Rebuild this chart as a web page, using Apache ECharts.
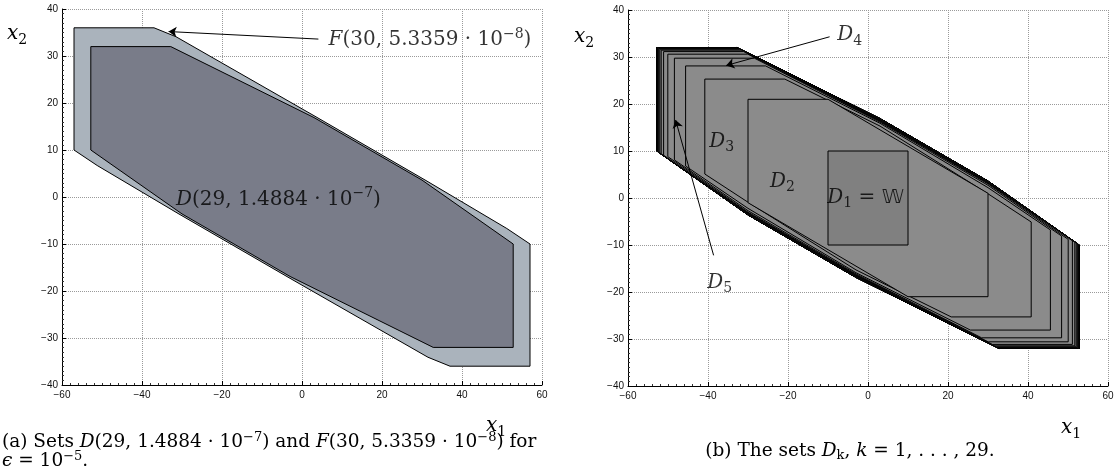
<!DOCTYPE html>
<html><head><meta charset="utf-8">
<script src="https://cdn.jsdelivr.net/npm/echarts@6/dist/echarts.min.js"></script>
<style>html,body{margin:0;padding:0;background:#fff}#c{width:1119px;height:475px}</style>
</head><body><div id="c"></div>
<script>
// ---------------- data ----------------
// axis ranges / ticks
const xRange = [-60, 60], xStep = 20;
const yRange = [-40, 40], yStep = 10;

// (a) set F(30, 5.3359e-8)  (vertices, x1 / x2)
const setF_x = [-57, -37, -31.5, 3, 31, 51.2, 57, 57, 37, 31.5, -3, -31, -51.2, -57];
const setF_y = [36, 36, 34.1, 17.3, 3.5, -6.7, -10, -36, -36, -34.1, -17.3, -3.5, 6.7, 10];
// (a) set D(29, 1.4884e-7)
const setD_x = [-52.8, -32.8, 3, 30, 52.8, 52.8, 32.8, -3, -30, -52.8];
const setD_y = [32, 32, 16.9, 3.6, -10, -32, -32, -16.9, -3.6, 10];

// (b) sets D_k, k = 1..29 (centrally symmetric; upper-left half given)
const dkLeft   = [-10, -30, -40.8, -45.6, -48.4, -50.05, -51.1, -51.7, -52.05, -52.3, -52.45, -52.55, -52.62, -52.67, -52.7, -52.72, -52.74, -52.75, -52.76, -52.77, -52.78, -52.78, -52.79, -52.79, -52.8, -52.8, -52.8, -52.8, -52.8];
const dkTopEnd = [10, -10, -20.8, -25.6, -28.4, -30.05, -31.1, -31.7, -32.05, -32.3, -32.45, -32.55, -32.62, -32.67, -32.7, -32.72, -32.74, -32.75, -32.76, -32.77, -32.78, -32.78, -32.79, -32.79, -32.8, -32.8, -32.8, -32.8, -32.8];
const dkTop    = [10, 21, 25.3, 28.1, 29.75, 30.6, 31.15, 31.45, 31.65, 31.78, 31.86, 31.91, 31.94, 31.96, 31.97, 31.98, 31.98, 31.99, 31.99, 31.99, 32, 32, 32, 32, 32, 32, 32, 32, 32];
const dkLow    = [-10, -1, 5.1, 6.8, 8.1, 8.8, 9.1, 9.4, 9.6, 9.72, 9.8, 9.86, 9.9, 9.92, 9.94, 9.95, 9.96, 9.97, 9.97, 9.98, 9.98, 9.99, 9.99, 9.99, 10, 10, 10, 10, 10];
const dkKneeAX = [10, 3, 3, 3, 3, 3, 3, 3, 3, 3, 3, 3, 3, 3, 3, 3, 3, 3, 3, 3, 3, 3, 3, 3, 3, 3, 3, 3, 3];
const dkKneeAY = [10, 14.5, 15.3, 15.9, 16.15, 16.3, 16.4, 16.47, 16.55, 16.62, 16.68, 16.73, 16.77, 16.8, 16.82, 16.84, 16.85, 16.86, 16.87, 16.88, 16.88, 16.89, 16.89, 16.9, 16.9, 16.9, 16.9, 16.9, 16.9];
const dkKneeBX = [10, 30, 30, 30, 30, 30, 30, 30, 30, 30, 30, 30, 30, 30, 30, 30, 30, 30, 30, 30, 30, 30, 30, 30, 30, 30, 30, 30, 30];
const dkKneeBY = [10, 1, 0.9, 2.2, 2.7, 3.0, 3.15, 3.25, 3.33, 3.4, 3.45, 3.49, 3.52, 3.54, 3.56, 3.57, 3.58, 3.58, 3.59, 3.59, 3.6, 3.6, 3.6, 3.6, 3.6, 3.6, 3.6, 3.6, 3.6];

// annotations (data coordinates)
const labelsA = [
  { at: [32, 33.4], text: '{i|F}{n|(30, 5.3359 · 10}{sup|−8}{n|)}' },
  { at: [-5.9, -0.6], text: '{i|D}{n|(29, 1.4884 · 10}{sup|−7}{n|)}' }
];
const arrowsA = [ { from: [4.1, 33.6], to: [-33.35, 35.2] } ];
const labelsB = [
  { at: [-4.6, 34.7], text: '{i|D}{sub|4}' },
  { at: [-36.6, 12], text: '{i|D}{sub|3}' },
  { at: [-21.4, 3.5], text: '{i|D}{sub|2}' },
  { at: [-0.6, 0.1], text: '{i|D}{sub|1}{n| = }{bb|𝕎}' },
  { at: [-37.1, -18], text: '{i|D}{sub|5}' }
];
const arrowsB = [
  { from: [-9.6, 34.3], to: [-35.45, 28.2] },
  { from: [-38.6, -12.2], to: [-48.1, 16.6] }
];

// ---------------- chart ----------------
const SERIF = "'DejaVu Serif','Liberation Serif',serif";
const SANS = "'Liberation Sans','DejaVu Sans',Arial,sans-serif";
const mathRich = {
  n:   { fontFamily: SERIF, fontSize: 20, lineHeight: 26, color: '#000' },
  i:   { fontFamily: SERIF, fontSize: 20, lineHeight: 26, fontStyle: 'italic', color: '#000' },
  bb:  { fontFamily: "'DejaVu Sans','DejaVu Serif',serif", fontSize: 20, lineHeight: 26, color: '#000' },
  sup: { fontFamily: SERIF, fontSize: 14, lineHeight: 14, verticalAlign: 'top', color: '#000' },
  sub: { fontFamily: SERIF, fontSize: 14, lineHeight: 14, verticalAlign: 'bottom', color: '#000' }
};
const capRich = {
  n:   { fontFamily: SERIF, fontSize: 18.5, lineHeight: 22, color: '#000' },
  i:   { fontFamily: SERIF, fontSize: 18.5, lineHeight: 22, fontStyle: 'italic', color: '#000' },
  sup: { fontFamily: SERIF, fontSize: 13, lineHeight: 13, verticalAlign: 'top', color: '#000' },
  sub: { fontFamily: SERIF, fontSize: 13, lineHeight: 13, verticalAlign: 'bottom', color: '#000' }
};

function axisPair(gi) {
  const common = {
    gridIndex: gi, type: 'value',
    axisLine: { show: true, onZero: false, lineStyle: { color: '#000', width: 1 } },
    axisTick: { show: true, inside: true, length: 4, lineStyle: { color: '#000' } },
    minorTick: { show: true, splitNumber: 10, length: 2, lineStyle: { color: '#333' } },
    splitLine: { show: true, lineStyle: { color: '#9a9a9a', type: 'dotted', width: 1 } },
    axisLabel: { color: '#111', fontFamily: SANS, fontSize: 10,
                 formatter: v => String(v).replace('-', '\u2212') }
  };
  return {
    x: Object.assign({}, common, { min: xRange[0], max: xRange[1], interval: xStep,
      axisLabel: Object.assign({}, common.axisLabel, { margin: 5 }) }),
    y: Object.assign({}, common, { min: yRange[0], max: yRange[1], interval: yStep,
      axisLabel: Object.assign({}, common.axisLabel, { margin: 4 }) })
  };
}
const a0 = axisPair(0), a1 = axisPair(1);

function polygonSeries(gi, xs, ys, fill) {
  return {
    type: 'custom', xAxisIndex: gi, yAxisIndex: gi, silent: true, clip: true,
    data: [[0, 0]], encode: { x: 0, y: 1 },
    renderItem: (params, api) => ({
      type: 'polygon',
      shape: { points: xs.map((x, j) => api.coord([x, ys[j]])) },
      style: { fill: fill, stroke: '#000', lineWidth: 1 }
    })
  };
}

function dkPoints(i) {
  const L = dkLeft[i], E = dkTopEnd[i], T = dkTop[i], C = dkLow[i];
  const ax = dkKneeAX[i], ay = dkKneeAY[i], bx = dkKneeBX[i], by = dkKneeBY[i];
  return [[L, T], [E, T], [ax, ay], [bx, by], [-L, -C],
          [-L, -T], [-E, -T], [-ax, -ay], [-bx, -by], [L, C]];
}
const dkOrder = dkLeft.map((_, i) => [0, 0, dkLeft.length - 1 - i]); // largest first
const dkSeries = {
  type: 'custom', xAxisIndex: 1, yAxisIndex: 1, silent: true, clip: true,
  data: dkOrder, encode: { x: 0, y: 1 },
  renderItem: (params, api) => {
    const i = api.value(2);
    return {
      type: 'polygon',
      shape: { points: dkPoints(i).map(p => api.coord(p)) },
      style: { fill: i === 0 ? '#808080' : '#8b8b8b', stroke: '#000', lineWidth: 1 }
    };
  }
};

function labelSeries(gi, list) {
  return {
    type: 'scatter', xAxisIndex: gi, yAxisIndex: gi, silent: true, z: 10,
    symbolSize: 1, itemStyle: { color: 'rgba(0,0,0,0)' },
    data: list.map(l => ({ value: l.at, text: l.text })),
    label: { show: true, position: 'inside', formatter: p => p.data.text, rich: mathRich }
  };
}
function arrowSeries(gi, list) {
  return {
    type: 'lines', coordinateSystem: 'cartesian2d', xAxisIndex: gi, yAxisIndex: gi,
    silent: true, z: 9, symbol: ['none', 'arrow'], symbolSize: 8,
    lineStyle: { color: '#000', width: 1, opacity: 1 },
    data: list.map(a => ({ coords: [a.from, a.to] }))
  };
}

const chart = echarts.init(document.getElementById('c'), null, { renderer: 'canvas' });
chart.setOption({
  animation: false,
  backgroundColor: '#fff',
  grid: [
    { left: 62, top: 9, width: 480, height: 376 },
    { left: 628, top: 10, width: 480, height: 376 }
  ],
  xAxis: [a0.x, a1.x],
  yAxis: [a0.y, a1.y],
  series: [
    polygonSeries(0, setF_x, setF_y, '#aab3bc'),
    polygonSeries(0, setD_x, setD_y, '#797c89'),
    arrowSeries(0, arrowsA),
    labelSeries(0, labelsA),
    dkSeries,
    arrowSeries(1, arrowsB),
    labelSeries(1, labelsB)
  ],
  graphic: [
    { type: 'text', x: 7, y: 34, style: { text: '{i|x}{sub|2}', rich: mathRich, verticalAlign: 'middle' } },
    { type: 'text', x: 574, y: 37, style: { text: '{i|x}{sub|2}', rich: mathRich, verticalAlign: 'middle' } },
    { type: 'text', x: 486, y: 426, style: { text: '{i|x}{sub|1}', rich: mathRich, verticalAlign: 'middle' } },
    { type: 'text', x: 1061, y: 428, style: { text: '{i|x}{sub|1}', rich: mathRich, verticalAlign: 'middle' } },
    { type: 'text', x: 2, y: 442, style: { text: '{n|(a) Sets }{i|D}{n|(29, 1.4884 · 10}{sup|−7}{n|) and }{i|F}{n|(30, 5.3359 · 10}{sup|−8}{n|) for}', rich: capRich, verticalAlign: 'middle' } },
    { type: 'text', x: 2, y: 461, style: { text: '{i|ϵ}{n| = 10}{sup|−5}{n|.}', rich: capRich, verticalAlign: 'middle' } },
    { type: 'text', x: 850, y: 451, style: { text: '{n|(b) The sets }{i|D}{sub|k}{n|, }{i|k}{n| = 1, . . . , 29.}', rich: capRich, align: 'center', verticalAlign: 'middle' } }
  ]
});
</script></body></html>
